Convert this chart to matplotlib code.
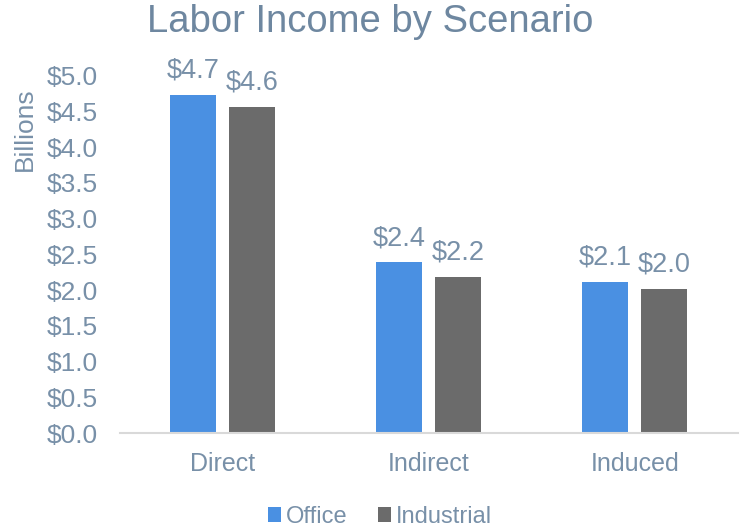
import matplotlib
matplotlib.use("Agg")
import matplotlib.pyplot as plt
import numpy as np

categories = ["Direct", "Indirect", "Induced"]
office = [4.73, 2.39, 2.12]
industrial = [4.57, 2.19, 2.02]
yticks = [0.0, 0.5, 1.0, 1.5, 2.0, 2.5, 3.0, 3.5, 4.0, 4.5, 5.0]

plt.rcParams['font.family'] = ['Liberation Sans', 'DejaVu Sans']
text_col = '#7890a8'

fig = plt.figure(figsize=(7.4, 5.3), dpi=100)
ax = fig.add_axes([0.162, 0.183, 0.835, 0.674])

x = np.arange(len(categories))
w = 0.223
gap = 0.063
b1 = ax.bar(x - (w + gap) / 2, office, w, color='#4a90e2', label='Office')
b2 = ax.bar(x + (w + gap) / 2, industrial, w, color='#6b6b6b', label='Industrial')

for bars, vals in [(b1, office), (b2, industrial)]:
    for r, v in zip(bars, vals):
        ax.text(r.get_x() + r.get_width() / 2, v + 0.24, "${:.1f}".format(v),
                ha='center', va='baseline', fontsize=19.5, color=text_col, clip_on=False)

ax.set_xlim(-0.5, 2.5)
ax.set_ylim(0, 5.0)
ax.set_yticks(yticks)
ax.set_yticklabels(["${:.1f}".format(t) for t in yticks])
ax.set_xticks(x)
ax.set_xticklabels(categories)
ax.tick_params(axis='both', length=0, labelcolor=text_col)
ax.tick_params(axis='y', labelsize=19, pad=16)
ax.tick_params(axis='x', labelsize=18, pad=14)

for s in ['top', 'right', 'left']:
    ax.spines[s].set_visible(False)
ax.spines['bottom'].set_color('#d9d9d9')
ax.spines['bottom'].set_linewidth(1.5)

ax.set_ylabel("Billions", fontsize=19, color=text_col)
ax.yaxis.set_label_coords(-0.135, 0.85)

fig.text(0.5, 0.958, "Labor Income by Scenario", ha='center', va='center',
         fontsize=27.5, color='#6e87a0')

fig.legend(loc='center', bbox_to_anchor=(0.513, 0.025), ncol=2, frameon=False,
           fontsize=17, labelcolor=text_col, handlelength=0.55, handleheight=0.55,
           handletextpad=0.2, columnspacing=1.3)

fig.savefig("out.png", dpi=100)
